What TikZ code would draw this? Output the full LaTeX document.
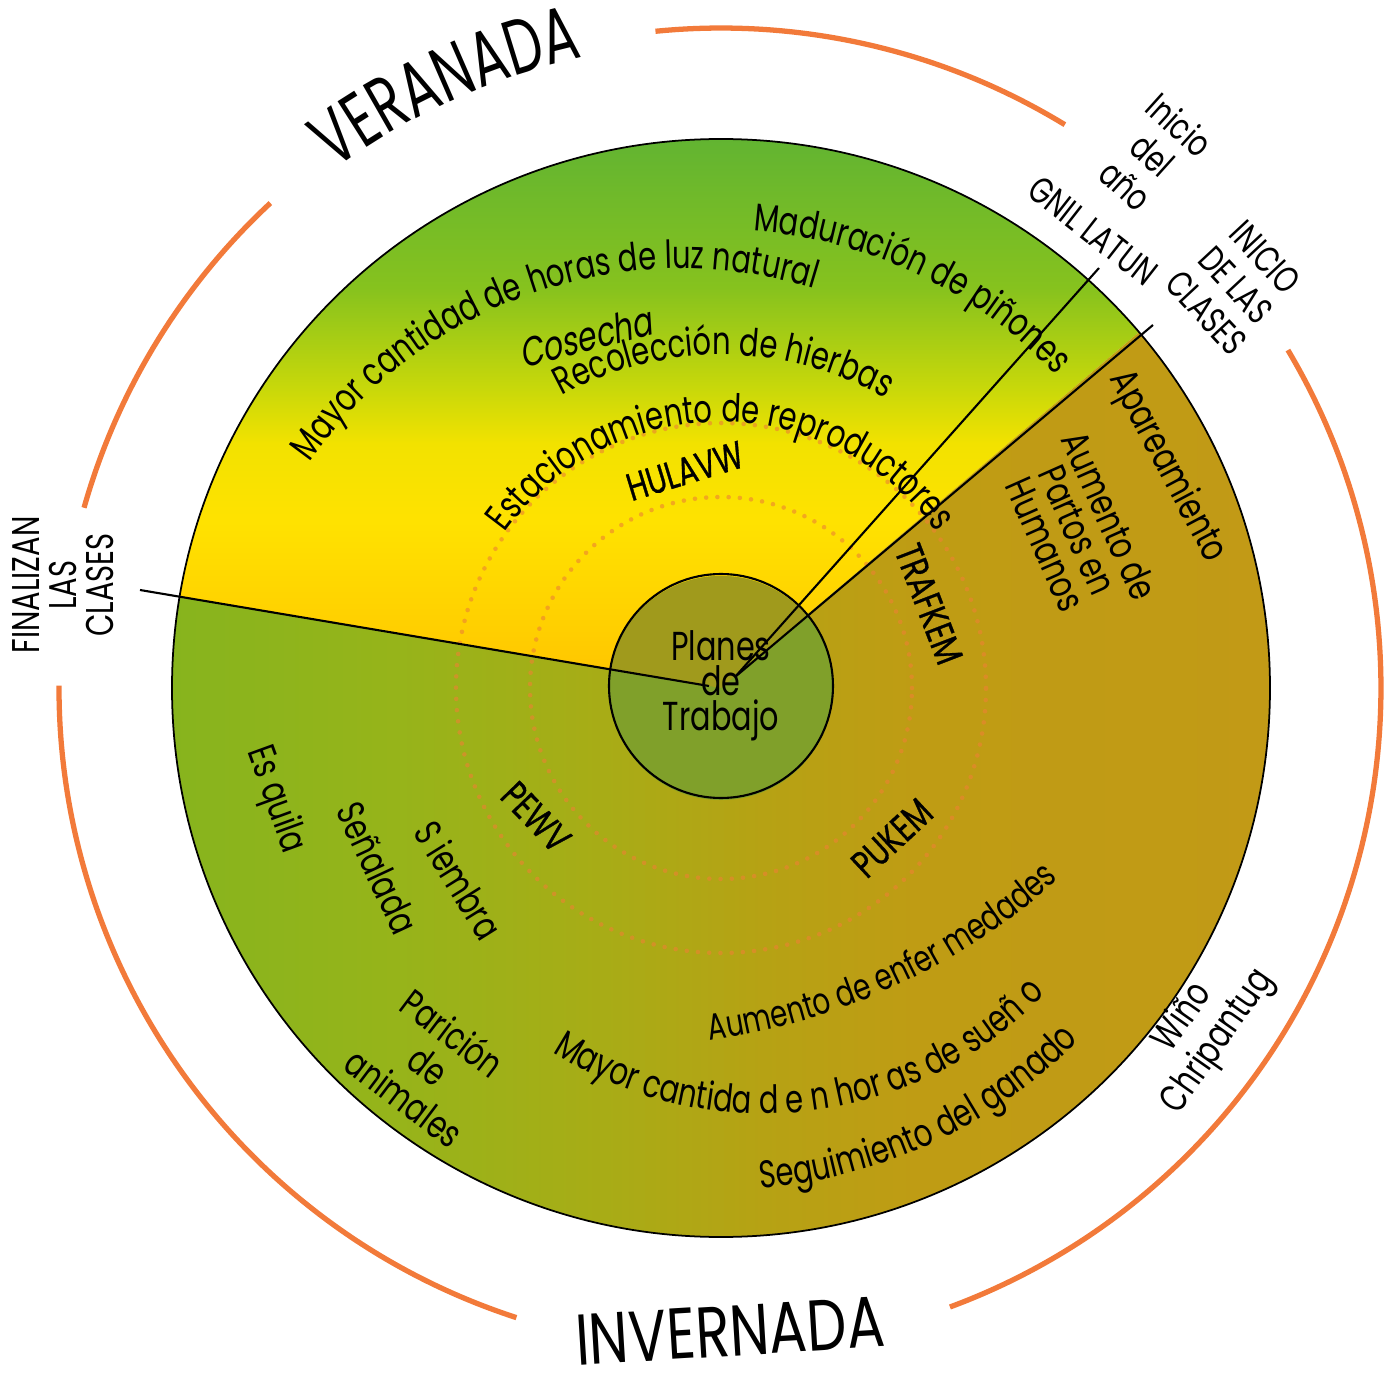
\documentclass[tikz,border=0pt]{standalone}
\usepackage{fontspec}
\setmainfont[FakeStretch=0.75]{Poppins}
\newfontfamily\titlefont[FakeStretch=0.68]{Poppins}
\newfontfamily\widetitlefont[FakeStretch=0.78]{Poppins}
\newfontfamily\slantfont[FakeStretch=0.75, FakeSlant=0.2]{Poppins}
\newfontfamily\phasefamily[FakeStretch=0.75, FakeBold=0.8]{Poppins}
\usetikzlibrary{decorations.text}

\definecolor{rimorange}{RGB}{242,122,58}
\definecolor{dotorange}{RGB}{236,130,50}
\definecolor{innergreen}{RGB}{128,160,42}
\definecolor{innerolive}{RGB}{160,154,28}
% summer sector, bottom to top
\definecolor{vbot}{RGB}{255,194,0}
\definecolor{vone}{RGB}{255,206,0}
\definecolor{vtwo}{RGB}{255,226,0}
\definecolor{vthree}{RGB}{242,226,0}
\definecolor{vfour}{RGB}{200,216,10}
\definecolor{vfive}{RGB}{134,194,30}
\definecolor{vtop}{RGB}{82,174,58}
% winter sector, left to right
\definecolor{hzero}{RGB}{132,180,30}
\definecolor{hone}{RGB}{150,180,26}
\definecolor{htwo}{RGB}{168,172,22}
\definecolor{hthree}{RGB}{182,162,20}
\definecolor{hfour}{RGB}{191,156,20}
\definecolor{hfive}{RGB}{194,154,22}

\pgfdeclareverticalshading{veranada}{100bp}{color(0bp)=(vbot); color(25bp)=(vbot);
  color(29.4bp)=(vone); color(38.5bp)=(vtwo); color(44.9bp)=(vthree);
  color(49.4bp)=(vfour); color(57.6bp)=(vfive); color(75bp)=(vtop); color(100bp)=(vtop)}
\pgfdeclarehorizontalshading{invernada}{100bp}{color(0bp)=(hzero); color(25bp)=(hzero);
  color(36.4bp)=(hone); color(45.5bp)=(htwo); color(52.3bp)=(hthree);
  color(59bp)=(hfour); color(75bp)=(hfive); color(100bp)=(hfive)}

\newcommand{\curvefont}{\fontsize{11}{13}\selectfont}
\newcommand{\labelfont}{\fontsize{10.5}{11.5}\selectfont}
\newcommand{\phasefont}{\phasefamily\fontsize{11}{12}\selectfont}
\newcommand{\bigfont}{\titlefont\fontsize{22}{24}\selectfont}

\tikzset{
  season/.style={draw=rimorange, line width=1.5pt},
  rim/.style={draw=black, line width=0.5pt},
  spoke/.style={draw=black, line width=0.6pt},
  dots/.style={draw=dotorange, line width=1.3pt, dash pattern=on 0pt off 3.2pt, line cap=round, opacity=0.6},
  outerlbl/.style={font=\labelfont, align=center, inner sep=0pt},
  task/.style={font=\curvefont, align=center, inner sep=0pt},
  phase/.style={font=\phasefont, inner sep=0pt},
  curved/.style={decorate, decoration={text along path, text align=center, text={#1}}},
}

\begin{document}
\begin{tikzpicture}
  \useasboundingbox (-7.21,-6.86) rectangle (6.73,6.88);

  % the two halves of the year
  \shade[shading=veranada] (0,0) -- (40.4:5.49) arc[start angle=40.4, end angle=170.4, radius=5.49] -- cycle;
  \shade[shading=invernada] (0,0) -- (170.4:5.49) arc[start angle=170.4, end angle=400.4, radius=5.49] -- cycle;
  \draw[rim] (0,0) circle (5.49);

  \draw[dots] (0,0) circle (2.65);
  \draw[dots] (0,0) circle (1.91);

  % centre
  \fill[innergreen] (0,0) circle (1.12);
  \fill[innerolive] (0,0) -- (40.4:1.12) arc[start angle=40.4, end angle=170.4, radius=1.12] -- cycle;
  \node[circle, draw, line width=0.6pt, minimum size=2.24cm, inner sep=0pt, align=center,
        font=\fontsize{11.5}{10}\selectfont] (plan) at (0,0.02) {Planes\\de\\Trabajo};

  \coordinate (hubR) at (0.14,0.11);
  \coordinate (hubL) at (-0.12,0.02);
  \coordinate (finEnd) at (-5.81,0.98);
  \coordinate (gnilEnd) at (3.78,4.20);
  \coordinate (inicioEnd) at (4.32,3.63);
  \draw[spoke] (hubL) -- (finEnd);
  \draw[spoke] (hubR) -- (gnilEnd);
  \draw[spoke] (hubR) -- (inicioEnd);

  % texts along the rings
  \path[curved={|\curvefont|Maduración de piñones}] (92:4.58) arc[start angle=92, end angle=37, radius=4.58];
  \path[shift={(-0.395,-0.347)}, curved={|\curvefont|Mayor cantidad de horas de luz natural}]
    (150:4.54) arc[start angle=150, end angle=68, radius=4.54];
  \path[curved={|\curvefont|Recolección de hierbas}] (125:3.33) arc[start angle=125, end angle=54, radius=3.33];
  \path[curved={|\curvefont|Estacionamiento de reproductores}] (150:2.66) arc[start angle=150, end angle=30, radius=2.66];
  \path[shift={(-0.975,2.916)}, curved={|\fontsize{10.5}{12}\selectfont|Aumento de enfer medades}]
    (-84:6.497) arc[start angle=-84, end angle=-46.3, radius=6.497];
  \path[shift={(0.428,-0.349)}, curved={|\curvefont|Mayor cantida d e n hor as de sueñ o}]
    (-128:3.909) arc[start angle=-128, end angle=-38.6, radius=3.909];
  \path[curved={|\curvefont|Seguimiento del ganado}] (-90:5.02) arc[start angle=-90, end angle=-40, radius=5.02];

  \node[task, font=\slantfont\fontsize{11.5}{13}\selectfont, rotate=15] (cosecha) at (-1.36,3.51) {Cosecha};
  \node[phase, rotate=17] (hulavw) at (-0.36,2.17) {HULAVW};
  \node[phase, rotate=-69] (trafkem) at (2.08,0.84) {TRAFKEM};
  \node[phase, rotate=43] (pukem) at (1.71,-1.50) {PUKEM};
  \node[phase, rotate=-46] (pewv) at (-1.85,-1.29) {PEWV};
  \node[task, rotate=-62] (apareamiento) at (4.46,2.21) {Apareamiento};
  \node[task, rotate=-66, font=\fontsize{11}{10}\selectfont] (partos) at (3.57,1.58) {Aumento de\\Partos en\\Humanos};
  \node[task, rotate=-70] (esquila) at (-4.46,-1.12) {Es quila};
  \node[task, rotate=-65] (senalada) at (-3.43,-1.80) {Señalada};
  \node[task, rotate=-58] (siembra) at (-2.62,-1.92) {S iembra};
  \node[task, rotate=-37, font=\fontsize{11}{11.5}\selectfont] (paricion) at (-2.92,-3.77) {Parición\\de\\animales};

  % outside the wheel
  \node[outerlbl, rotate=-42] (inicioano) at (51:6.86) {Inicio\\del\\año};
  \node[outerlbl, rotate=-38] (gnil) at (3.72,4.57) {GNIL LATUN};
  \node[outerlbl, rotate=-47] (inicioclases) at (5.15,4.03) {INICIO\\DE LAS\\CLASES};
  \node[outerlbl, rotate=90, font=\fontsize{11}{10.5}\selectfont] (finalizan) at (-6.58,1.03) {FINALIZAN\\LAS\\CLASES};
  \node[outerlbl, rotate=55, font=\fontsize{11}{12}\selectfont] (wino) at (4.80,-3.42) {Wiño\\Chripantug};

  \path[curved={|\bigfont|VERANADA}] (130:6.46) arc[start angle=130, end angle=99, radius=6.46];
  \node[font=\widetitlefont\fontsize{20.5}{22}\selectfont, rotate=3.5, inner sep=0pt] (invernada) at (0.09,-6.43) {INVERNADA};

  \draw[season] (95.7:6.6) arc[start angle=95.7, end angle=58.6, radius=6.6];
  \draw[season] (132.9:6.62) arc[start angle=132.9, end angle=164.2, radius=6.62];
  \draw[season] (179.8:6.62) arc[start angle=179.8, end angle=252, radius=6.62];
  \draw[season] (30.8:6.6) arc[start angle=30.8, end angle=-69.7, radius=6.6];
\end{tikzpicture}
\end{document}
